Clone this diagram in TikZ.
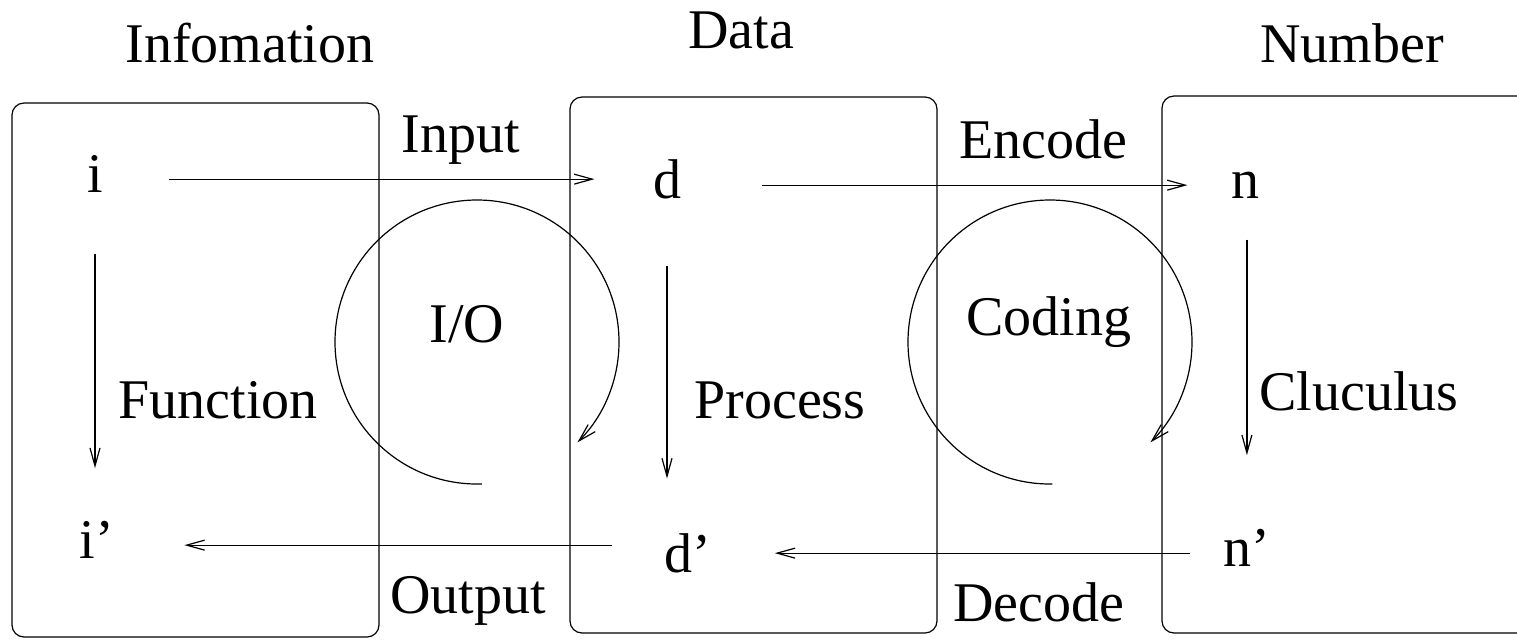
\documentclass[tikz,border=0pt]{standalone}
\usepackage{fontspec}
\setmainfont{Liberation Serif}
\usetikzlibrary{arrows.meta}

\begin{document}
\fontsize{28}{34}\selectfont
\begin{tikzpicture}[x=0.5pt,y=-0.5pt,line width=0.6pt,
	every node/.style={font=\fontsize{28}{34}\selectfont},
	box/.style={draw,rounded corners=6pt},
	lbl/.style={anchor=base,inner sep=0pt},
	sym/.style={anchor=base,inner sep=0pt},
	arr/.style={-{Straight Barb[length=9pt,width=5pt]}}]
	\useasboundingbox (0,0) rectangle (1517,639);
	\clip (0,0) rectangle (1517,639);

	% the three domains
	\draw[box] (12,103) rectangle (379,637);
	\draw[box] (570,97) rectangle (937,633);
	\draw[box] (1162,96) rectangle (1560,633);
	\node[lbl] (information) at (250,62) {Infomation};
	\node[lbl] (data) at (741,48) {Data};
	\node[lbl] (number) at (1352,62) {Number};

	\node[sym] (i) at (95,192) {i};
	\node[sym] (d) at (667,198) {d};
	\node[sym] (n) at (1245,198) {n};
	\node[sym,anchor=base west] (ip) at (79,558) {i'};
	\node[sym,anchor=base west] (dp) at (664,572) {d'};
	\node[sym,anchor=base west] (np) at (1223,566) {n'};

	\draw[arr,shorten <=33pt,shorten >=29pt] (i.mid east) -- (i.mid east -| d.west);
	\draw[arr,shorten <=40pt,shorten >=21.5pt] (d.mid east) -- (d.mid east -| n.west);
	\draw[arr,shorten <=26pt,shorten >=35pt] (ip.mid east -| dp.west) -- (ip.mid east);
	\draw[arr,shorten <=16.5pt,shorten >=31.5pt] (np.mid west) -- (np.mid west -| dp.east);
	\draw[arr,shorten <=30.5pt,shorten >=26pt] (i.south) -- (i.south |- ip.north);
	\draw[arr,shorten <=33.5pt,shorten >=27pt] (d.south) -- (d.south |- dp.north);
	\draw[arr,shorten <=20.5pt,shorten >=36.5pt] (n.south -| np.north) -- (np.north);

	\node[lbl] (input) at (461,152) {Input};
	\node[lbl] (encode) at (1043,158) {Encode};
	\node[lbl] (function) at (218,418) {Function};
	\node[lbl] (process) at (780,418) {Process};
	\node[lbl] (cluculus) at (1359,410) {Cluculus};
	\node[lbl] (output) at (468,613) {Output};
	\node[lbl] (decode) at (1039,621) {Decode};

	% the two loops
	\coordinate (ioloop) at (477,342);
	\coordinate (codeloop) at (1050,342);
	\node[lbl] (io) at (467,342) {I/O};
	\node[lbl] (coding) at (1049,335) {Coding};
	\draw[arr] ([shift={(88:142)}]ioloop) arc[start angle=88,end angle=405,radius=142];
	\draw[arr] ([shift={(89:142)}]codeloop) arc[start angle=89,end angle=405,radius=142];
\end{tikzpicture}
\end{document}
